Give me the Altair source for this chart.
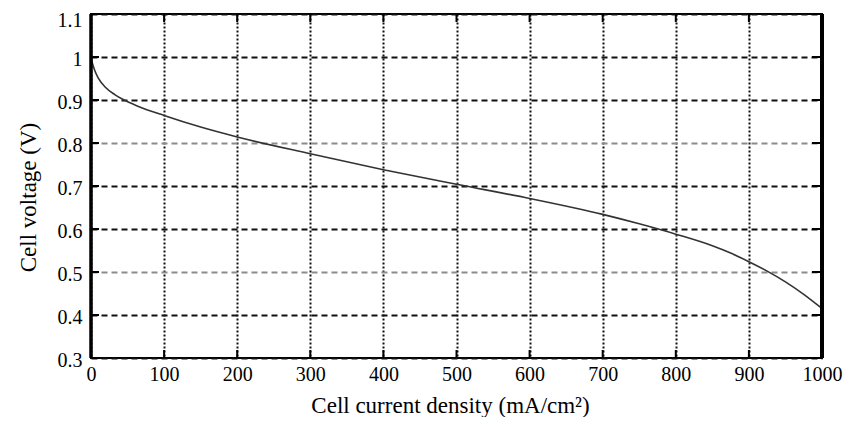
import altair as alt
import pandas as pd

# Polarization curve
current = [0, 2, 5, 10, 20, 33, 44, 65, 100, 150, 200, 300, 400, 500, 600,
           700, 750, 800, 850, 875, 900, 925, 950, 975, 1000]
voltage = [1.0, 0.985, 0.969, 0.951, 0.929, 0.912, 0.901, 0.885, 0.864, 0.837,
           0.814, 0.775, 0.738, 0.704, 0.671, 0.634, 0.612, 0.588, 0.561,
           0.544, 0.524, 0.502, 0.477, 0.448, 0.415]

x_ticks = [0, 100, 200, 300, 400, 500, 600, 700, 800, 900, 1000]
y_ticks = [0.3, 0.4, 0.5, 0.6, 0.7, 0.8, 0.9, 1.0, 1.1]

W, H = 731, 344
FONT = "Liberation Serif"

curve = pd.DataFrame({"current": current, "voltage": voltage})
xt = pd.DataFrame({"current": x_ticks})
yt = pd.DataFrame({"voltage": y_ticks})

xscale = alt.Scale(domain=[0, 1000], nice=False, zero=False)
yscale = alt.Scale(domain=[0.3, 1.1], nice=False, zero=False)

x_axis = alt.Axis(
    values=x_ticks, format="d", domain=False, ticks=False,
    labelFont=FONT, labelFontSize=20, labelColor="black",
    labelBaseline="alphabetic", labelPadding=22, labelFlush=False,
    grid=True, gridColor="#111111", gridWidth=2, gridDash=[2, 2],
    title="Cell current density (mA/cm²)", titleFont=FONT, titleFontSize=23,
    titleFontWeight="normal", titleColor="black",
    titleX=359, titleY=54, titleAlign="center", titleBaseline="alphabetic",
)
y_axis = alt.Axis(
    values=y_ticks, format=".1~f", domain=False, ticks=False,
    labelFont=FONT, labelFontSize=20, labelColor="black",
    labelBaseline="alphabetic", labelPadding=9,
    labelOffset={"condition": {"test": "datum.value > 1.05", "value": 12},
                 "value": 8},
    grid=True, gridWidth=2, gridDash=[6, 4],
    gridColor={"condition": {"test": "datum.value == 0.8 || datum.value == 0.5",
                             "value": "#8c8c8c"},
               "value": "#111111"},
    title="Cell voltage (V)", titleFont=FONT, titleFontSize=23,
    titleFontWeight="normal", titleColor="black",
    titleAngle=270, titleX=-56, titleY=183, titleAlign="center",
    titleBaseline="alphabetic",
)

X = alt.X("current:Q", scale=xscale, axis=x_axis)
Y = alt.Y("voltage:Q", scale=yscale, axis=y_axis)

line = alt.Chart(curve).mark_line(color="#333333", strokeWidth=1.6,
                                  interpolate="monotone").encode(x=X, y=Y)

tick_len = 8
bottom_ticks = alt.Chart(xt).mark_rule(color="black", strokeWidth=2).encode(
    x=X, y=alt.value(H), y2=alt.value(H - tick_len))
top_ticks = alt.Chart(xt).mark_rule(color="black", strokeWidth=2).encode(
    x=X, y=alt.value(0), y2=alt.value(tick_len))
left_ticks = alt.Chart(yt).mark_rule(color="black", strokeWidth=2).encode(
    y=Y, x=alt.value(0), x2=alt.value(tick_len))
right_ticks = alt.Chart(yt).mark_rule(color="black", strokeWidth=2).encode(
    y=Y, x=alt.value(W), x2=alt.value(W - tick_len - 2))

left_border = alt.Chart(pd.DataFrame({"current": [0]})).mark_rule(
    color="black", strokeWidth=3.5).encode(x=X)
right_border = alt.Chart(pd.DataFrame({"current": [1000]})).mark_rule(
    color="black", strokeWidth=4).encode(x=X)

chart = alt.layer(
    line, bottom_ticks, top_ticks, left_ticks, right_ticks, left_border, right_border
).properties(
    width=W, height=H,
    autosize=alt.AutoSizeParams(type="none"),
    padding={"left": 83, "top": 6, "right": 28, "bottom": 59},
    background="white",
).configure_view(stroke="black", strokeWidth=2)

chart.save("out.html", embed_options={"renderer": "svg", "actions": False})
